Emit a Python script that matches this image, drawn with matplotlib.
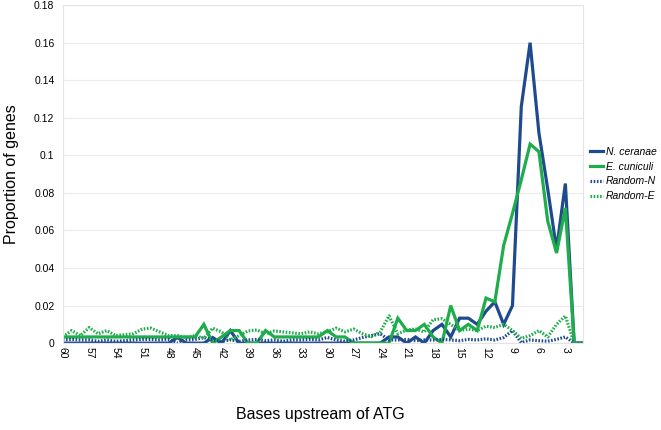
import numpy as np
import matplotlib
matplotlib.use('Agg')
import matplotlib.pyplot as plt
from matplotlib.ticker import FuncFormatter

plt.rcParams['font.family'] = ['Liberation Sans', 'DejaVu Sans']

# bases upstream of ATG, from 60 down to 1
positions = list(range(60, 0, -1))

n_ceranae = [0, 0, 0, 0, 0, 0, 0, 0, 0, 0, 0, 0, 0,          # 60-48
             0.003, 0, 0, 0, 0.003, 0, 0.0067, 0,              # 47-40
             0, 0, 0, 0, 0, 0, 0, 0, 0, 0, 0, 0, 0, 0, 0, 0,   # 39-24
             0.0033, 0.0033, 0, 0.0033, 0, 0.0067, 0.01, 0.0033,  # 23-16
             0.0133, 0.0133, 0.01, 0.017, 0.022, 0.01, 0.02,   # 15-9
             0.126, 0.16, 0.112, 0.082, 0.05, 0.085, 0, 0]     # 8-1

e_cuniculi = [0.0033] * 16 + [                                # 60-45
              0.01, 0, 0.0033, 0.0067, 0.0067, 0, 0, 0.0067,   # 44-37
              0.0033, 0.0033, 0.0033, 0.0033, 0.0033, 0.0033,  # 36-31
              0.0067, 0.0033, 0.0033, 0, 0, 0, 0, 0,           # 30-23
              0.0133, 0.0067, 0.0067, 0.01, 0.0033, 0, 0.02,   # 22-16
              0.0067, 0.01, 0.0067, 0.024, 0.022, 0.052, 0.069,  # 15-9
              0.087, 0.106, 0.102, 0.065, 0.048, 0.072, 0, 0]  # 8-1

random_n = [0.0017, 0.002, 0.0017, 0.0017, 0.001, 0.0017, 0.001, 0.0013,   # 60-53
            0.0017, 0.002, 0.002, 0.0017, 0.002, 0, 0.0017, 0.002,          # 52-45
            0.003, 0.0017, 0.001, 0.0017, 0.001, 0.0017, 0.002, 0.0013,     # 44-37
            0.0017, 0.001, 0.0017, 0.0017, 0.002, 0.0017, 0.003, 0.0017,    # 36-29
            0.001, 0.0017, 0.003, 0.004, 0.005, 0.0017, 0.0017, 0.002,      # 28-21
            0.0013, 0.0017, 0.0017, 0.002, 0.0017, 0.0013, 0.002, 0.0017,   # 20-13
            0.0023, 0.0017, 0.003, 0.0067, 0.0003, 0.0017, 0.0013, 0.001,   # 12-5
            0.002, 0.0033, 0, 0]                                            # 4-1

random_e = [0.0033, 0.0067, 0.004, 0.0083, 0.005, 0.0067, 0.004, 0.0045,   # 60-53
            0.005, 0.0075, 0.008, 0.006, 0.004, 0.004, 0.003, 0.004,        # 52-45
            0.0025, 0.008, 0.006, 0.0017, 0.004, 0.0065, 0.007, 0.005,      # 44-37
            0.0065, 0.006, 0.0055, 0.005, 0.006, 0.005, 0.006, 0.008,       # 36-29
            0.006, 0.0075, 0.005, 0.0035, 0.006, 0.0145, 0.005, 0.007,      # 28-21
            0.0075, 0.006, 0.0125, 0.013, 0.01, 0.0067, 0.0075, 0.0067,     # 20-13
            0.009, 0.0083, 0.01, 0.0067, 0.0025, 0.004, 0.0067, 0.0033,     # 12-5
            0.01, 0.0145, 0, 0]                                             # 4-1

series_names = ['N. ceranae', 'E. cuniculi', 'Random-N', 'Random-E']
x_ticks = list(range(60, 0, -3))
y_ticks = [0, 0.02, 0.04, 0.06, 0.08, 0.1, 0.12, 0.14, 0.16, 0.18]

blue = '#1f4b8e'
green = '#1fad4b'

fig = plt.figure(figsize=(6.61, 4.30), dpi=100)
ax = fig.add_axes([0.095, 0.202, 0.787, 0.786])

ax.plot(positions, n_ceranae, color=blue, lw=2.3, label=series_names[0], solid_joinstyle='miter')
ax.plot(positions, e_cuniculi, color=green, lw=2.3, label=series_names[1], solid_joinstyle='miter')
ax.plot(positions, random_n, color=blue, lw=2.3, ls=(0, (0.5, 0.5)), label=series_names[2])
ax.plot(positions, random_e, color=green, lw=2.3, ls=(0, (0.5, 0.5)), label=series_names[3])

ax.set_xlim(60, 1)
ax.set_ylim(0, 0.18)
ax.set_xticks(x_ticks)
ax.set_xticklabels([str(v) for v in x_ticks], rotation=-90, fontsize=7.5)
ax.set_yticks(y_ticks)
ax.yaxis.set_major_formatter(FuncFormatter(lambda v, p: f'{v:g}'))
ax.tick_params(axis='y', labelsize=7.5, length=0, pad=6)
ax.tick_params(axis='x', length=0, pad=3)
ax.grid(axis='y', color='#ececec', lw=0.8)
ax.set_axisbelow(True)
for s in ax.spines.values():
    s.set_color('#e4e4e4')
    s.set_linewidth(0.8)

fig.text(0.018, 0.595, 'Proportion of genes', rotation=90, ha='center', va='center', fontsize=11.5)
fig.text(0.485, 0.035, 'Bases upstream of ATG', ha='center', va='center', fontsize=11.5)

leg = ax.legend(loc='center left', bbox_to_anchor=(1.0, 0.5), frameon=False,
                prop={'style': 'italic', 'size': 7.5}, handlelength=1.2,
                handletextpad=0.3, labelspacing=0.45, borderaxespad=0.3)

fig.savefig('out.png', dpi=100)
